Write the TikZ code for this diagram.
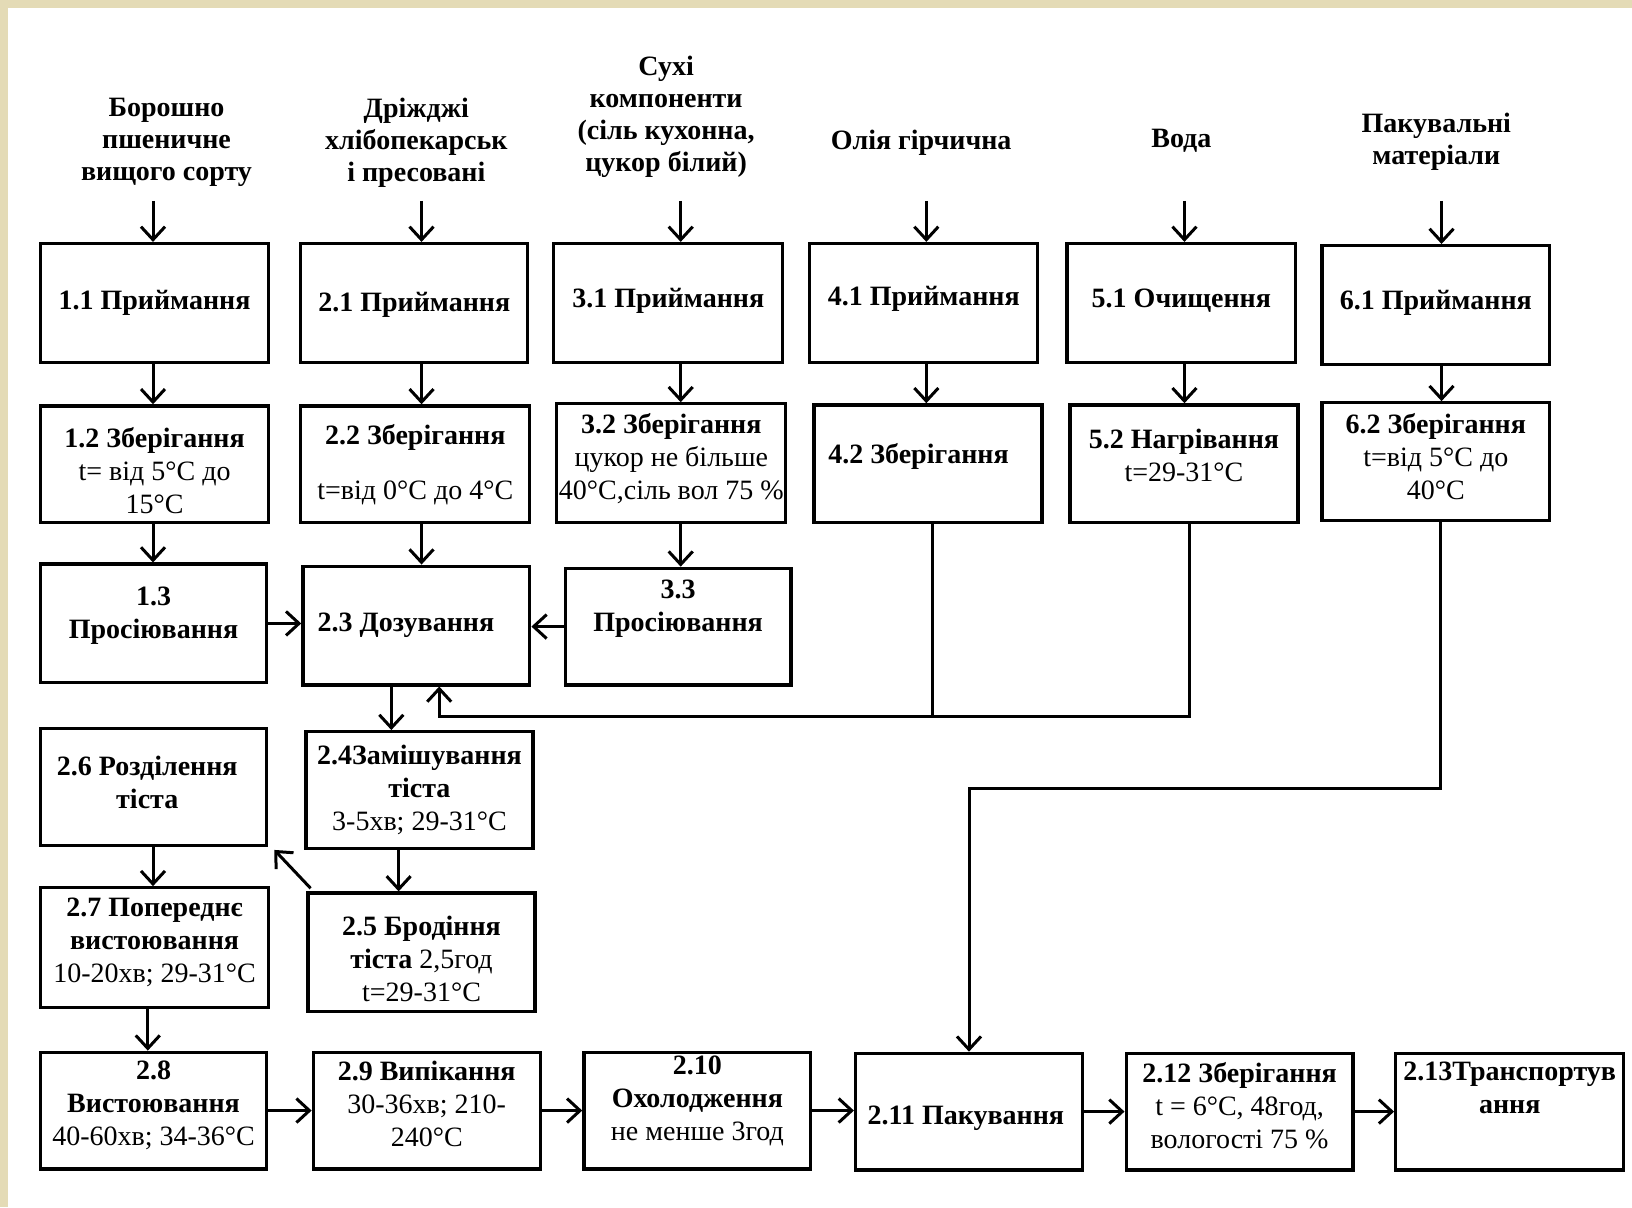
\documentclass[tikz,border=0pt]{standalone}
\usepackage{fontspec}
\setmainfont{Liberation Serif}
\usetikzlibrary{arrows.meta}
\definecolor{parch}{RGB}{228,219,182}
\tikzset{
  box/.style={draw=black, line width=3.3pt, fill=white, inner sep=0pt},
  txt/.style={align=center, inner sep=1pt, font=\fontsize{28}{33}\selectfont},
  hdr/.style={align=center, inner sep=1pt, font=\fontsize{28}{32}\selectfont\bfseries},
  conn/.style={line width=3pt},
  arr/.style={conn, -{Straight Barb[length=13pt,width=24pt]}},
}
\newcommand\bx[7]{%
  \node[box, minimum width={(#4-#2)*1.0408pt}, minimum height={(#5-#3)*1.0408pt}] (#1) at ({(#2+#4)/2},{(#3+#5)/2}) {};
  \node[txt] (#1t) at ([shift={(#6)}]#1.center) {#7};}
\begin{document}
\begin{tikzpicture}[x=1.0408pt, y=-1.0408pt]
\useasboundingbox (0,0) rectangle (1568,1160);
\fill[parch] (0,0) rectangle (1568,1160);
\fill[white] (7.5,7.5) rectangle (1568,1160);

% headers
\node[hdr] (h1) at (160,137) {Борошно\\пшеничне\\вищого сорту};
\node[hdr] (h2) at (400,137) {Дріжджі\\хлібопекарськ\\і пресовані};
\node[hdr] (h3) at (640,112) {Сухі\\компоненти\\(сіль кухонна,\\цукор білий)};
\node[hdr] (h4) at (885,137) {Олія гірчична};
\node[hdr] (h5) at (1135,135) {Вода};
\node[hdr] (h6) at (1380,136.5) {Пакувальні\\матеріали};

% boxes
\bx{b11}{39}{234}{258}{348}{0,0}{\textbf{1.1 Приймання}}
\bx{b21}{289}{234}{507}{348}{0,2}{\textbf{2.1 Приймання}}
\bx{b31}{532}{234}{752}{348}{0,-2}{\textbf{3.1 Приймання}}
\bx{b41}{778}{234}{997}{348}{0,-4}{\textbf{4.1 Приймання}}
\bx{b51}{1025}{234}{1245}{348}{0,-2}{\textbf{5.1 Очищення}}
\bx{b61}{1270}{236}{1489}{350}{0,-2}{\textbf{6.1 Приймання}}

\bx{b12}{39}{390}{258}{502}{0,6}{\textbf{1.2 Зберігання}\\t= від 5°C до\\15°C}
\bx{b22}{289}{390}{509}{502}{0,0}{\textbf{2.2 Зберігання}\\[22pt]t=від 0°C до 4°C}
\bx{b32}{535}{388}{755}{502}{0,-4}{\textbf{3.2 Зберігання}\\цукор не більше\\40°C,сіль вол 75 \%}
\bx{b42}{782}{389}{1001}{502}{-9,-7}{\textbf{4.2 Зберігання}}
\bx{b52}{1028}{389}{1247}{502}{0,-8}{\textbf{5.2 Нагрівання}\\t=29-31°C}
\bx{b62}{1270}{387}{1489}{500}{0,-5}{\textbf{6.2 Зберігання}\\t=від 5°C до\\40°C}

\bx{b13}{39}{542}{256}{656}{0,-7}{\textbf{1.3}\\\textbf{Просіювання}}
\bx{b23}{291}{544}{509}{658}{-10,0}{\textbf{2.3 Дозування}}
\bx{b33}{543}{546}{760}{658}{0,-17}{\textbf{3.3}\\\textbf{Просіювання}}

\bx{b26}{39}{700}{256}{812}{-6,-4}{\textbf{2.6 Розділення}\\\textbf{тіста}}
\bx{b24}{294}{703}{512}{815}{0,0}{\textbf{2.4Замішування}\\\textbf{тіста}\\3-5хв; 29-31°C}
\bx{b25}{296}{858}{514}{972}{0,6}{\textbf{2.5 Бродіння}\\\textbf{тіста} 2,5год\\t=29-31°C}
\bx{b27}{39}{853}{258}{968}{0,-5}{\textbf{2.7 Попереднє}\\\textbf{вистоювання}\\10-20хв; 29-31°C}

\bx{b28}{39}{1011}{256}{1123}{0,-5}{\textbf{2.8}\\\textbf{Вистоювання}\\40-60хв; 34-36°C}
\bx{b29}{301}{1011}{519}{1123}{0,-6}{\textbf{2.9 Випікання}\\30-36хв; 210-\\240°C}
\bx{b210}{561}{1011}{779}{1123}{0,-9}{\textbf{2.10}\\\textbf{Охолодження}\\не менше 3год}
\bx{b211}{822}{1012}{1040}{1124}{-3,6}{\textbf{2.11 Пакування}}
\bx{b212}{1082}{1012}{1300}{1124}{0,-6}{\textbf{2.12 Зберігання}\\t = 6°C, 48год,\\вологості 75 \%}
\bx{b213}{1341}{1012}{1560}{1124}{0,-23}{\textbf{2.13Транспортув}\\\textbf{ання}}

% guide coordinates
\coordinate (a1) at (147,193);
\coordinate (a2) at (405,193);
\coordinate (a3) at (654,193);
\coordinate (a4) at (890,193);
\coordinate (a5) at (1138,193);
\coordinate (a6) at (1385,193);
\coordinate (d1) at (376,680);
\coordinate (d2) at (383,835);
\coordinate (d3) at (142,990);
\coordinate (fb4) at (896,688);
\coordinate (fb5) at (1143,688);
\coordinate (fbu) at (422,688);
\coordinate (pk1) at (1384,758);
\coordinate (pk2) at (931,758);

% header arrows
\draw[arr] (a1) -- (a1 |- b11.north);
\draw[arr] (a2) -- (a2 |- b21.north);
\draw[arr] (a3) -- (a3 |- b31.north);
\draw[arr] (a4) -- (a4 |- b41.north);
\draw[arr] (a5) -- (a5 |- b51.north);
\draw[arr] (a6) -- (a6 |- b61.north);

% column arrows
\draw[arr] (b11.south -| a1) -- (b12.north -| a1);
\draw[arr] (b21.south -| a2) -- (b22.north -| a2);
\draw[arr] (b31.south -| a3) -- (b32.north -| a3);
\draw[arr] (b41.south -| a4) -- (b42.north -| a4);
\draw[arr] (b51.south -| a5) -- (b52.north -| a5);
\draw[arr] (b61.south -| a6) -- (b62.north -| a6);
\draw[arr] (b12.south -| a1) -- (b13.north -| a1);
\draw[arr] (b22.south -| a2) -- (b23.north -| a2);
\draw[arr] (b32.south -| a3) -- (b33.north -| a3);

% into dosing
\draw[arr] (b13.east) -- (b23.west |- b13.east);
\draw[arr] (b33.west) -- (b23.east |- b33.west);

% feedback from oil and water
\draw[conn] (b42.south -| fb4) -- (fb4);
\draw[arr] (b52.south -| fb5) -- (fb5) -- (fbu) -- (fbu |- b23.south);

% dough line
\draw[arr] (b23.south -| d1) -- (b24.north -| d1);
\draw[arr] (b24.south -| d2) -- (b25.north -| d2);
\draw[arr] ([shift={(4,-3)}]b25.north west) -- ([shift={(6,3)}]b26.south east);
\draw[arr] (b26.south -| a1) -- (b27.north -| a1);
\draw[arr] (b27.south -| d3) -- (b28.north -| d3);

% bottom row
\draw[arr] (b28.east) -- (b29.west |- b28.east);
\draw[arr] (b29.east) -- (b210.west |- b29.east);
\draw[arr] (b210.east) -- (b211.west |- b210.east);
\draw[arr] (b211.east) -- (b212.west |- b211.east);
\draw[arr] (b212.east) -- (b213.west |- b212.east);

% packaging materials
\draw[arr] (b62.south -| pk1) -- (pk1) -- (pk2) -- (pk2 |- b211.north);
\end{tikzpicture}
\end{document}
